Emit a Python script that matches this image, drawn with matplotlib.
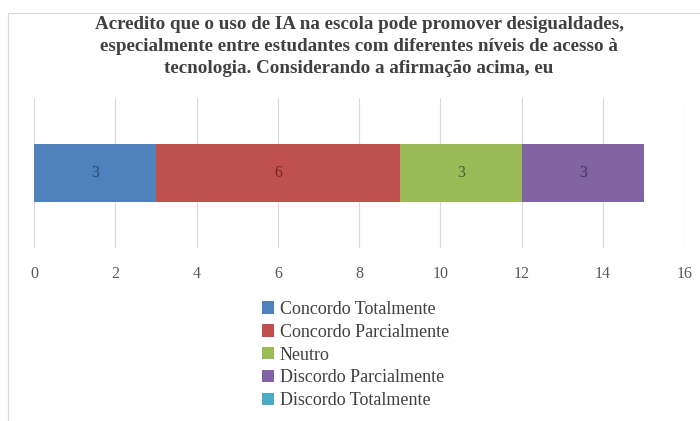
import matplotlib.pyplot as plt
from matplotlib.patches import Rectangle

categorias = ["Concordo Totalmente", "Concordo Parcialmente", "Neutro",
              "Discordo Parcialmente", "Discordo Totalmente"]
valores = [3, 6, 3, 3, 0]
cores = ["#4F81BD", "#C0504D", "#9BBB59", "#8064A2", "#4BACC6"]
cores_rotulo = ["#2E4A6E", "#6E2A28", "#4E5E2C", "#45365A", "#2A6070"]
ticks = [0, 2, 4, 6, 8, 10, 12, 14, 16]
titulo = ("Acredito que o uso de IA na escola pode promover desigualdades,\n"
          "especialmente entre estudantes com diferentes níveis de acesso à\n"
          "tecnologia. Considerando a afirmação acima, eu")

plt.rcParams['font.family'] = ['Liberation Serif', 'DejaVu Serif']

fig = plt.figure(figsize=(7, 4.21), dpi=100)
ax = fig.add_axes([0.0486, 1 - 248 / 421, 0.929, 150 / 421])

# borda do grafico
fig.patches.append(Rectangle((0.011, -0.05), 1.0, 1 - 13 / 421 + 0.05,
                             transform=fig.transFigure, fill=False,
                             edgecolor="#D9D9D9", linewidth=0.8))

esq = 0
for cat, v, c, cr in zip(categorias, valores, cores, cores_rotulo):
    ax.barh(0, v, left=esq, height=0.39, color=c, label=cat, zorder=3)
    if v > 0:
        ax.text(esq + v / 2, 0, str(v), ha="center", va="center",
                fontsize=11.5, color=cr, zorder=4)
    esq += v

ax.set_xlim(0, 16)
ax.set_ylim(-0.5, 0.5)
ax.set_xticks(ticks)
ax.set_yticks([])
ax.grid(axis="x", color="#D9D9D9", linewidth=0.8, zorder=0)
for s in ax.spines.values():
    s.set_visible(False)
ax.tick_params(axis="x", length=0, labelsize=11.5, labelcolor="#595959", pad=13)

fig.text(0.513, 1 - 16 / 421, titulo, ha="center", va="top", fontsize=13.7,
         fontweight="bold", color="#404040", linespacing=1.38)

fig.legend(loc="upper left", bbox_to_anchor=(262 / 700, 1 - 301 / 421), ncol=1,
           frameon=False, fontsize=13, labelcolor="#404040", handlelength=0.68,
           handleheight=0.68, handletextpad=0.3, labelspacing=0.32,
           borderaxespad=0, borderpad=0)

fig.savefig("out.png", dpi=100)
